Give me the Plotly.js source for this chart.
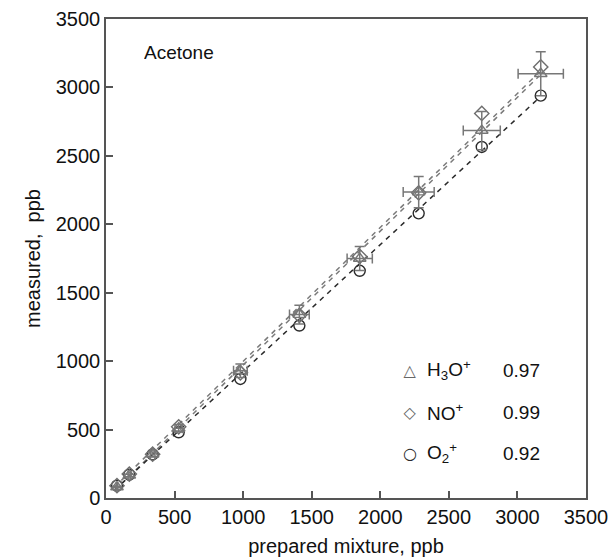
<!DOCTYPE html>
<html>
<head>
<meta charset="utf-8">
<script src="https://cdn.plot.ly/plotly-3.0.1.min.js"></script>
<style>html,body{margin:0;padding:0;background:#fff;}#chart{width:612px;height:560px;}</style>
</head>
<body>
<div id="chart"></div>
<script>
// prepared mixture concentrations (ppb)
var prepared = [80, 170, 340, 530, 980, 1410, 1850, 2280, 2740, 3170];
// measured values (ppb)
var h3o = [80, 165, 320, 510, 930, 1340, 1750, 2235, 2685, 3100];
var no  = [90, 175, 320, 520, 915, 1335, 1765, 2230, 2810, 3150];
var o2  = [90, 170, 318, 480, 870, 1260, 1660, 2080, 2565, 2940];
// error bars for H3O+ (ppb)
var h3oErrY = [5, 9, 17, 27, 50, 68, 88, 115, 140, 160];
var prepErrX = [5, 9, 17, 27, 50, 72, 92, 113, 135, 165];
// fitted lines (end points)
var fitX = [60, 3160];
var fitH3O = [52, 3085];
var fitNO = [78, 3112];
var fitO2 = [55, 2925];
// legend
var ionNames = ['H<sub>3</sub>O<sup>+</sup>', 'NO<sup>+</sup>', 'O<sub>2</sub><sup>+</sup>'];
var ionSymbols = ['\u25B3', '\u25C7', '\u25CB'];
var slopes = ['0.97', '0.99', '0.92'];

var grayLine = '#7a7a7a', darkLine = '#2a2a2a';
var traces = [
  {x: fitX, y: fitH3O, mode: 'lines', line: {color: grayLine, width: 1.5, dash: '5px,5px'}, hoverinfo: 'skip'},
  {x: fitX, y: fitNO, mode: 'lines', line: {color: grayLine, width: 1.5, dash: '5px,5px'}, hoverinfo: 'skip'},
  {x: fitX, y: fitO2, mode: 'lines', line: {color: darkLine, width: 1.5, dash: '5px,5px'}, hoverinfo: 'skip'},
  {x: prepared, y: o2, mode: 'markers', marker: {symbol: 'circle-open', size: 11, color: '#2a2a2a', line: {width: 1.4}}},
  {x: prepared, y: no, mode: 'markers', marker: {symbol: 'diamond-open', size: 11, color: '#6e6e6e', line: {width: 1.4}}},
  {x: prepared, y: h3o, mode: 'markers', marker: {symbol: 'triangle-up-open', size: 11, color: '#777777', line: {width: 1.4}},
   error_y: {type: 'data', array: h3oErrY, visible: true, color: '#777777', thickness: 1.5, width: 5},
   error_x: {type: 'data', array: prepErrX, visible: true, color: '#777777', thickness: 1.5, width: 5}}
];

var fnt = {family: 'Liberation Sans, Arial, sans-serif', size: 20, color: '#111'};
var annFnt = {family: 'Liberation Sans, Arial, sans-serif', size: 19, color: '#111'};
function ann(px, py, text, font, w, align) {
  return {xref: 'paper', yref: 'paper', x: (px-106)/480, y: (498-py)/479,
    xanchor: align === 'center' ? 'center' : 'left', yanchor: 'middle',
    width: w, height: 26, align: align || 'left', text: text, showarrow: false, font: font};
}
var annotations = [ann(142, 52, 'Acetone', annFnt, 80, 'left')];
var rowsY = [370, 412, 453];
for (var i = 0; i < 3; i++) {
  annotations.push(ann(410, rowsY[i], ionSymbols[i], {family: 'DejaVu Sans, sans-serif', size: 16, color: i === 2 ? '#2a2a2a' : '#666'}, 18, 'center'));
  annotations.push(ann(425, rowsY[i], ionNames[i], annFnt, 60, 'left'));
  annotations.push(ann(501, rowsY[i], slopes[i], annFnt, 48, 'left'));
}

var axisCommon = {
  showgrid: false, zeroline: false, showline: true, linecolor: '#555', linewidth: 1.5, mirror: true,
  ticks: 'inside', ticklen: 7, tickwidth: 1.5, tickcolor: '#555',
  range: [0, 3500], dtick: 500, tick0: 0, tickfont: fnt
};
var layout = {
  width: 612, height: 560,
  margin: {l: 106, r: 26, t: 19, b: 62},
  paper_bgcolor: '#fff', plot_bgcolor: '#fff',
  showlegend: false,
  xaxis: Object.assign({}, axisCommon, {title: {text: 'prepared mixture, ppb', font: fnt, standoff: 12}}),
  yaxis: Object.assign({}, axisCommon, {title: {text: 'measured,  ppb', font: fnt, standoff: 10}}),
  annotations: annotations
};
Plotly.newPlot('chart', traces, layout, {displayModeBar: false});
</script>
</body>
</html>
